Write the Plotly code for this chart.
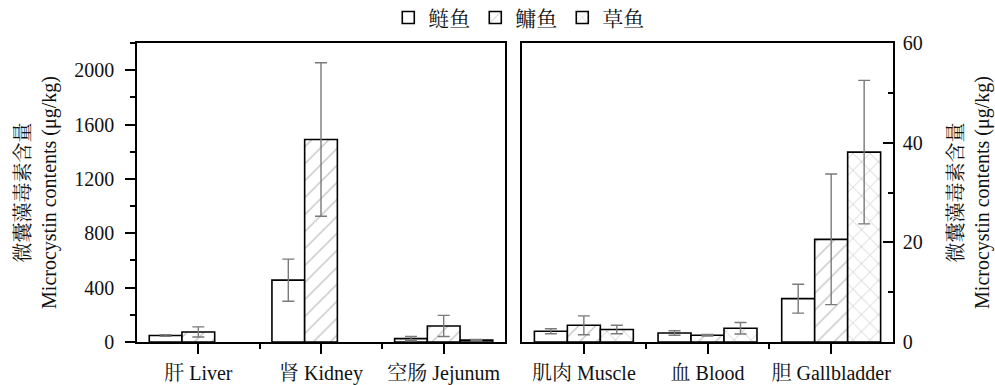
import plotly.graph_objects as go

# Tissue categories for the two panels
left_tissues = ["肝 Liver", "肾 Kidney", "空肠 Jejunum"]
right_tissues = ["肌肉 Muscle", "血 Blood", "胆 Gallbladder"]

species = ["鲢鱼", "鳙鱼", "草鱼"]

# Mean microcystin contents (μg/kg) and their standard deviations
left_silver = [48, 455, 25]
left_silver_sd = [6, 155, 16]
left_bighead = [74, 1490, 118]
left_bighead_sd = [37, 565, 78]
left_grass = [None, None, 14]
left_grass_sd = [None, None, 5]

right_silver = [2.15, 1.8, 8.7]
right_silver_sd = [0.5, 0.45, 2.9]
right_bighead = [3.35, 1.35, 20.6]
right_bighead_sd = [1.9, 0.15, 13.1]
right_grass = [2.5, 2.75, 38.1]
right_grass_sd = [0.85, 1.15, 14.4]

left_ticks = [0, 400, 800, 1200, 1600, 2000]
right_ticks = [0, 20, 40, 60]

FONT = "Liberation Serif, Times New Roman, Noto Serif CJK SC, Noto Sans CJK SC, serif"
patterns = ["", "/", "x"]
ERR = "#7a7a7a"

fig = go.Figure()

panels = [
    ("x", "y", [left_silver, left_bighead, left_grass],
     [left_silver_sd, left_bighead_sd, left_grass_sd], True),
    ("x2", "y2", [right_silver, right_bighead, right_grass],
     [right_silver_sd, right_bighead_sd, right_grass_sd], False),
]
positions = [0, 1, 2]
for xa, ya, vals, sds, show in panels:
    for name, pat, v, sd in zip(species, patterns, vals, sds):
        fig.add_trace(go.Bar(
            x=positions, y=v, name=name, xaxis=xa, yaxis=ya,
            showlegend=show, legendgroup=name,
            marker=dict(color="white",
                        line=dict(color="black", width=1.6),
                        pattern=dict(shape=pat, fgcolor="#6e6e6e", bgcolor="white",
                                     size=12, solidity=0.1, fillmode="overlay")),
            error_y=dict(type="data", array=sd, visible=True,
                         color=ERR, thickness=1.4, width=6),
        ))

tick_font = dict(family=FONT, size=20, color="#111")
title_font = dict(family=FONT, size=20, color="#111")
title_text = "微囊藻毒素含量<br>Microcystin contents (μg/kg)"

common_x = dict(range=[-0.5, 2.5], tickmode="array", tickvals=positions,
                ticks="outside", ticklen=10, tickwidth=1.5, tickcolor="black",
                ticklabelstandoff=2,
                showline=True, linecolor="black", linewidth=1.6, mirror=True,
                showgrid=False, zeroline=False, tickfont=tick_font,
                minor=dict(tickmode="array", tickvals=[0.5, 1.5], ticks="outside",
                           ticklen=5, tickwidth=1.5, tickcolor="black"),
                automargin=False, fixedrange=True)

fig.update_layout(
    width=995, height=385,
    margin=dict(l=137, r=102, t=43, b=43, autoexpand=False),
    paper_bgcolor="white", plot_bgcolor="white",
    barmode="group", bargap=0.2, bargroupgap=0,
    font=dict(family=FONT, size=20, color="#111"),
    xaxis=dict(domain=[0, 0.4868], anchor="y", ticktext=left_tissues, **common_x),
    xaxis2=dict(domain=[0.5093, 1], anchor="y2", ticktext=right_tissues, **common_x),
    yaxis=dict(domain=[0, 1], anchor="x", range=[0, 2200],
               tickmode="array", tickvals=left_ticks,
               ticks="outside", ticklen=10, tickwidth=1.5, tickcolor="black",
               ticklabelstandoff=7,
               minor=dict(dtick=200, tick0=0, ticks="outside", ticklen=5,
                          tickwidth=1.5, tickcolor="black"),
               showline=True, linecolor="black", linewidth=1.6, mirror=True,
               showgrid=False, zeroline=False, tickfont=tick_font,
               title=dict(text=title_text, font=title_font, standoff=12),
               automargin=False, fixedrange=True),
    yaxis2=dict(domain=[0, 1], anchor="x2", side="right", range=[0, 60],
                tickmode="array", tickvals=right_ticks,
                ticks="inside", ticklen=10, tickwidth=1.5, tickcolor="black",
                ticklabelstandoff=4,
                minor=dict(dtick=10, tick0=0, ticks="inside", ticklen=5,
                           tickwidth=1.5, tickcolor="black"),
                showline=True, linecolor="black", linewidth=1.6, mirror=True,
                showgrid=False, zeroline=False, tickfont=tick_font,
                title=dict(text=title_text, font=title_font, standoff=27),
                automargin=False, fixedrange=True),
    legend=dict(orientation="h", x=0.505, xanchor="center", y=1.084, yanchor="middle",
                font=dict(family=FONT, size=21, color="#111"),
                itemwidth=30, tracegroupgap=0, bgcolor="rgba(0,0,0,0)"),
)

fig.write_html("out.html")
